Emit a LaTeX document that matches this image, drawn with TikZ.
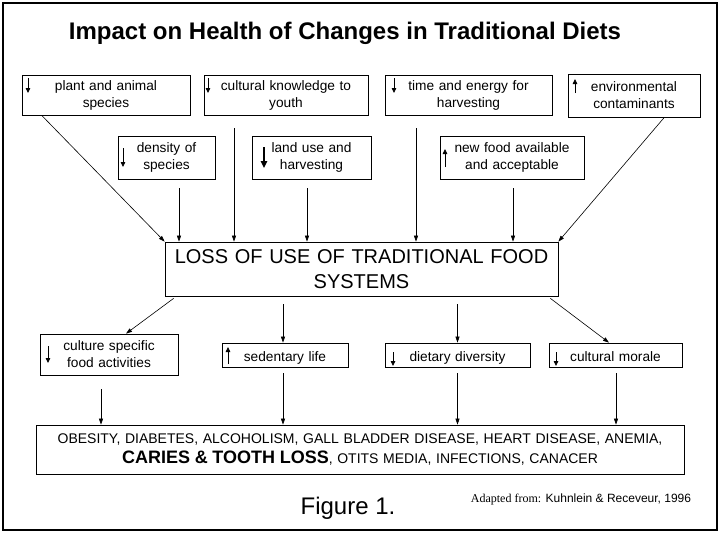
\documentclass[tikz,border=0pt]{standalone}
\usepackage{fontspec}
\setmainfont{Liberation Sans}
\newfontfamily\timesfont{Liberation Serif}
\usetikzlibrary{arrows.meta}
\tikzset{
  box/.style={draw, line width=0.7pt, inner sep=0pt, align=center, font=\fontsize{13.7}{17}\selectfont},
  conn/.style={-{Triangle[length=6pt,width=4pt]}, line width=0.6pt},
  dn/.style={-{Triangle[length=5pt,width=4.5pt]}, line width=0.8pt},
}
\begin{document}
\begin{tikzpicture}[x=1pt,y=-1pt]
			\useasboundingbox (0,0) rectangle (721,533);
			\draw[line width=1.2pt] (3,3) rectangle (717,530);
			\node[font=\bfseries\fontsize{24}{28}\selectfont] (title) at (345,33) {Impact on Health of Changes in Traditional Diets};
			% causes
			\node[box, text width=168pt, minimum height=40pt] (plant) at (106,95) {plant and animal\\species};
			\node[box, text width=164pt, minimum height=40pt] (know) at (286,95) {cultural knowledge to\\youth};
			\node[box, text width=167pt, minimum height=40pt] (time) at (468.5,95) {time and energy for\\harvesting};
			\node[box, text width=132pt, minimum height=43pt] (env) at (634,95.5) {environmental\\contaminants};
			\node[box, text width=97pt, minimum height=43pt] (dens) at (166.5,157.5) {density of\\species};
			\node[box, text width=119pt, minimum height=43pt] (land) at (311.5,157.5) {land use and\\harvesting};
			\node[box, text width=144pt, minimum height=43pt] (newf) at (512,157.5) {new food available\\and acceptable};
			\node[box, text width=393pt, minimum height=54pt, font=\fontsize{20}{25}\selectfont] (loss) at (361.5,269) {LOSS OF USE OF TRADITIONAL FOOD\\SYSTEMS};
			% effects
			\node[box, text width=138pt, minimum height=41pt] (cult) at (109,354.5) {culture specific\\food activities};
			\node[box, text width=126pt, minimum height=24pt, text height=12pt, text depth=0pt] (sed) at (285,355) {sedentary life};
			\node[box, text width=145pt, minimum height=24pt, text height=12pt, text depth=0pt] (diet) at (457.5,355) {dietary diversity};
			\node[box, text width=133pt, minimum height=24pt, text height=12pt, text depth=0pt] (mor) at (615.5,355) {cultural morale};
			\node[box, text width=648pt, minimum height=49pt, font=\fontsize{14}{20}\selectfont] (dis) at (360,449.5) {OBESITY, DIABETES, ALCOHOLISM, GALL BLADDER DISEASE, HEART DISEASE, ANEMIA,\\{\bfseries\fontsize{18}{20}\selectfont CARIES \& TOOTH LOSS}, OTITS MEDIA, INFECTIONS, CANACER};
			\node[font=\fontsize{24}{28}\selectfont] (fig) at (348,508) {Figure 1.};
			\node[font=\fontsize{12}{14}\selectfont] (src) at (581,499) {{\timesfont Adapted from:} Kuhnlein \& Receveur, 1996};
			% up and down signs
			\draw[dn] (28,78) -- (28,93);
			\draw[dn] (208,78) -- (208,93);
			\draw[dn] (394,78) -- (394,93);
			\draw[dn] (575,93) -- (575,79);
			\draw[dn] (123,148) -- (123,167);
			\draw[dn, line width=1.3pt, -{Triangle[length=7pt,width=6.5pt]}] (264,147) -- (264,168);
			\draw[dn] (445,167) -- (445,149);
			\draw[dn] (48,346) -- (48,363);
			\draw[dn] (228,364) -- (228,347);
			\draw[dn] (393,352) -- (393,366);
			\draw[dn] (556,352) -- (556,366);
			% connectors
			\coordinate (k) at ([xshift=-52pt,yshift=-13pt]know.south);
			\coordinate (t) at ([xshift=-52.5pt,yshift=-13pt]time.south);
			\coordinate (d) at ([xshift=12.5pt,yshift=-9pt]dens.south);
			\coordinate (l) at ([xshift=-4.5pt,yshift=-9pt]land.south);
			\coordinate (n) at ([xshift=1pt,yshift=-9pt]newf.south);
			\draw[conn] ([xshift=20pt]plant.south west) -- (loss.north west);
			\draw[conn] (k) -- (k |- loss.north);
			\draw[conn] (t) -- (t |- loss.north);
			\draw[conn] (d) -- (d |- loss.north);
			\draw[conn] (l) -- (l |- loss.north);
			\draw[conn] (n) -- (n |- loss.north);
			\draw[conn] ([xshift=-36pt]env.south east) -- (loss.north east);
			\coordinate (s) at ([xshift=-2pt]sed.north);
			\draw[conn] ([xshift=9pt,yshift=-2pt]loss.south west) -- ([xshift=17pt]cult.north);
			\draw[conn] ([yshift=-8pt]s |- loss.south) -- (s);
			\draw[conn] ([yshift=-8pt]diet.north |- loss.south) -- (diet.north);
			\draw[conn] ([xshift=-8pt,yshift=-2pt]loss.south east) -- ([xshift=-6.5pt]mor.north);
			\coordinate (c) at ([xshift=-8pt,yshift=-14pt]cult.south);
			\draw[conn] (c) -- (c |- dis.north);
			\draw[conn] ([yshift=-6pt]s |- sed.south) -- (s |- dis.north);
			\draw[conn] ([yshift=-6pt]diet.south) -- (diet.south |- dis.north);
			\coordinate (m) at ([xshift=0.5pt,yshift=-6pt]mor.south);
			\draw[conn] (m) -- (m |- dis.north);
		\end{tikzpicture}
\end{document}
